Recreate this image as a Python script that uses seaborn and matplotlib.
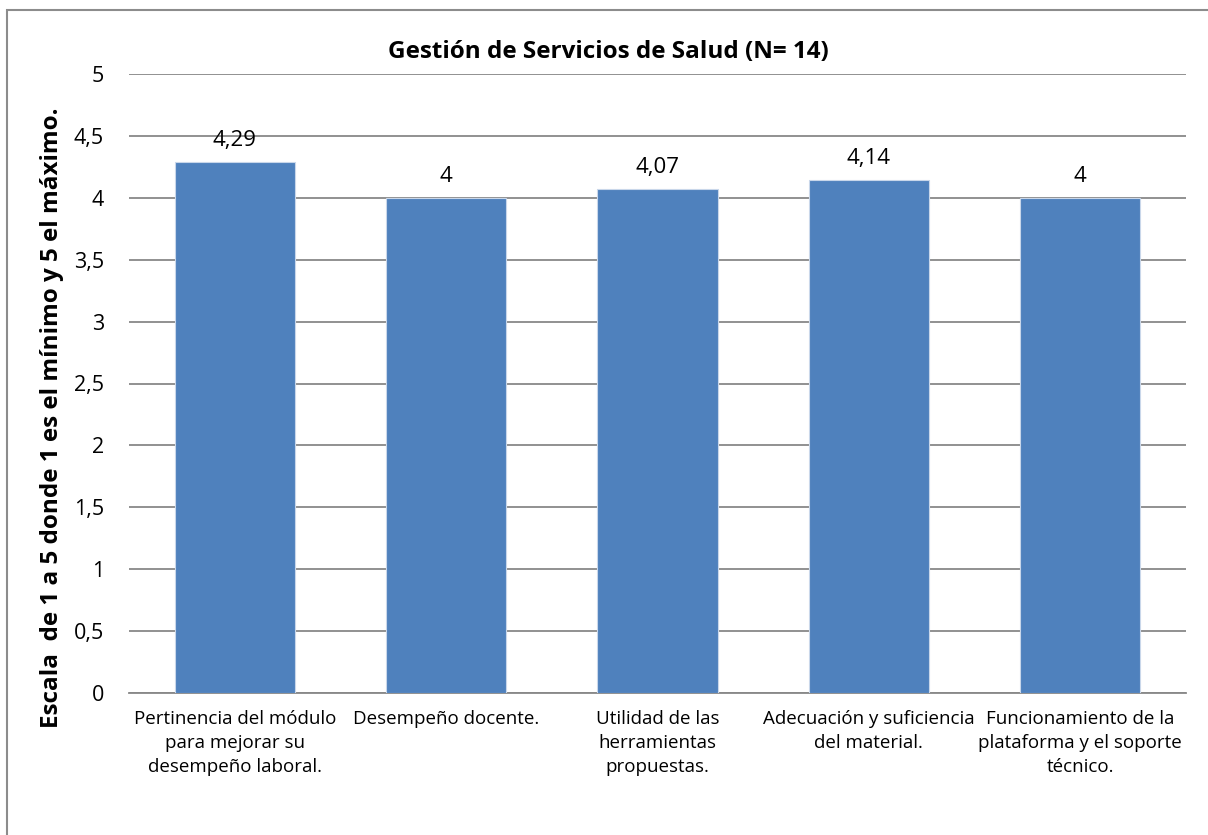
import matplotlib
matplotlib.use("Agg")
import matplotlib.pyplot as plt
import seaborn as sns
import pandas as pd
from matplotlib.patches import Rectangle

# data
categorias = ["Pertinencia del módulo\npara mejorar su\ndesempeño laboral.",
              "Desempeño docente.",
              "Utilidad de las\nherramientas\npropuestas.",
              "Adecuación y suficiencia\ndel material.",
              "Funcionamiento de la\nplataforma y el soporte\ntécnico."]
valores = [4.29, 4, 4.07, 4.14, 4]
etiquetas = ["4,29", "4", "4,07", "4,14", "4"]
yticks = [0, 0.5, 1, 1.5, 2, 2.5, 3, 3.5, 4, 4.5, 5]
ytick_labels = ["0", "0,5", "1", "1,5", "2", "2,5", "3", "3,5", "4", "4,5", "5"]

df = pd.DataFrame({"categoria": categorias, "valor": valores})

sns.set_style("white")
plt.rcParams['font.family'] = ['Open Sans', 'DejaVu Sans']
plt.rcParams.update({"text.color": "black", "xtick.color": "black",
                     "ytick.color": "black", "axes.labelcolor": "black"})

W, H = 1208, 835
fig = plt.figure(figsize=(W / 100, H / 100), dpi=100)
ax = fig.add_axes([129 / W, 1 - 693 / H, (1186 - 129) / W, (693 - 74) / H])

sns.barplot(data=df, x="categoria", y="valor", color="#4F81BD", saturation=1,
            width=0.568, edgecolor="#C9D7EA", linewidth=0.8, ax=ax, zorder=3)

ax.set_ylim(0, 5)
ax.set_xlim(-0.5, 4.5)
ax.set_yticks(yticks)
ax.set_yticklabels(ytick_labels, fontsize=15.5)
ax.tick_params(axis="y", length=0, pad=18)
ax.tick_params(axis="x", length=0, pad=12)
for lab in ax.get_xticklabels():
    lab.set_fontsize(13.5)
    lab.set_linespacing(1.45)
ax.yaxis.grid(True, color="#888888", linewidth=1.3, zorder=0)
ax.set_axisbelow(True)
for s in ["top", "right", "left"]:
    ax.spines[s].set_visible(False)
ax.spines["bottom"].set_color("#888888")
ax.spines["bottom"].set_linewidth(1.3)

for i, (v, t) in enumerate(zip(valores, etiquetas)):
    ax.annotate(t, (i, v), xytext=(0, 8), textcoords="offset points",
                ha="center", va="bottom", fontsize=16)

ax.set_xlabel("")
ax.set_ylabel("")
fig.text(52 / W, 1 - 418 / H, "Escala  de 1 a 5 donde 1 es el mínimo y 5 el máximo.",
         rotation=90, ha="center", va="center", fontsize=17.5, fontweight="bold")
fig.text(608 / W, 1 - 52 / H, "Gestión de Servicios de Salud (N= 14)",
         ha="center", va="center", fontsize=17.5, fontweight="bold")

fig.patches.append(Rectangle((7 / W, -0.05), 1.1, 1 - 10 / H + 0.05,
                             transform=fig.transFigure, fill=False,
                             edgecolor="#8C8C8C", linewidth=1.5))

fig.savefig("out.png", dpi=100)
